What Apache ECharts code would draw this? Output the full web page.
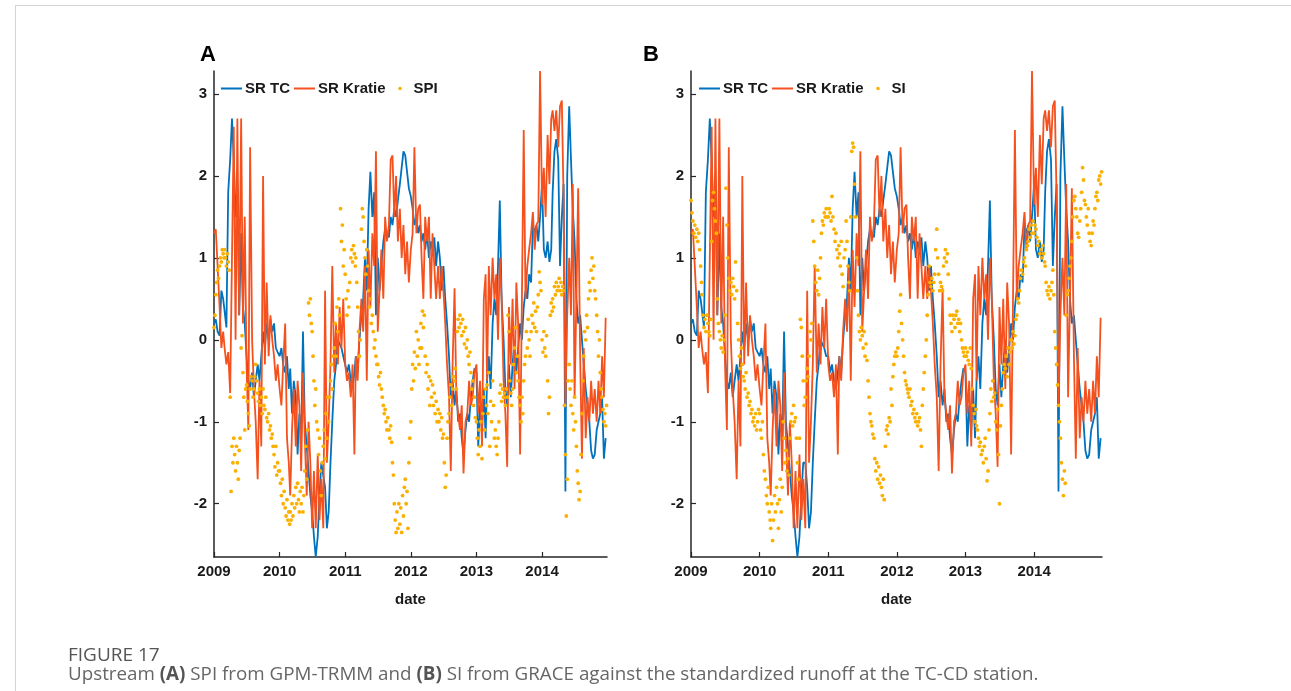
<!DOCTYPE html>
<html>
<head>
<meta charset="utf-8">
<script src="https://cdn.jsdelivr.net/npm/echarts@6.0.0/dist/echarts.min.js"></script>
<style>
html,body{margin:0;padding:0;background:#fff;}
#chart{width:1291px;height:691px;}
</style>
</head>
<body>
<div id="chart"></div>
<script>
// ---------- data ----------
const YEARS = [2009, 2010, 2011, 2012, 2013, 2014];
const LINE_DAYS = [1, 11, 21];            // three readings per month for the runoff lines
const DOT_DAYS = [1, 6, 11, 16, 21, 26];  // six readings per month for SPI / SI
const X_TICKS = [2009, 2010, 2011, 2012, 2013, 2014];
const Y_TICKS = [-2, -1, 0, 1, 2, 3];

// SR TC (3 values per month, Jan 2009 .. Dec 2014)
const srTC = [
  0.2,0.25,0.1, 0.05,0.6,0.5, 0.35,0.15,1.8, 2.2,2.7,2.2, 1.5,1.9,0.3, 1.3,0.4,0.2, -0.2,-0.5,-0.6, -0.4,-0.7,-0.5, -0.3,-0.5,-0.2, 0.1,-0.1,0.2, 0.0,0.25,0.1, 0.2,-0.1,-0.15,
  -0.2,-0.1,-0.3, -0.4,-0.2,-0.6, -0.35,-0.9,-0.5, -0.7,-1.4,-0.9, -1.2,0.1,-1.0, -1.3,-1.6,-1.9, -2.1,-2.4,-2.65, -2.4,-1.9,-1.5, -1.5,-1.8,-2.3, -2.1,-1.5,-1.0, -0.5,-0.3,0.0, 0.0,-0.1,-0.2,
  -0.2,-0.4,-0.3, -0.5,-0.6,-0.4, -0.2,-0.4,0.0, 0.3,0.5,1.0, 0.6,1.6,2.05, 1.5,1.8,0.3, 1.0,0.6,0.9, 1.2,1.35,1.3, 1.25,1.5,1.4, 1.6,1.5,1.7, 1.9,2.1,2.3, 2.25,2.05,1.85,
  1.75,1.6,1.4, 1.5,1.3,1.4, 1.2,1.3,1.1, 1.3,1.0,1.2, 1.1,1.25,0.9, 1.2,1.0,0.6, 0.9,0.5,0.2, -0.2,-0.7,-0.5, -0.8,-0.6,-1.0, -0.9,-1.2,-1.4, -1.1,-0.9,-1.0, -0.7,-0.5,-0.35,
  -0.4,-1.3,-0.8, -1.1,-0.6,-1.2, -0.5,-0.2,-0.6, 0.2,0.5,0.3, 0.9,1.7,0.5, 0.0,-0.6,-0.8, -0.3,-0.7,-0.3, 0.0,-0.4,-0.1, 0.2,0.0,0.4, 0.6,0.5,0.8, 0.7,1.4,1.3, 1.4,1.2,1.5,
  1.9,1.1,1.0, 1.2,0.95,1.1, 1.8,2.3,2.45, 2.2,0.9,1.5, 1.9,-1.85,2.0, 2.85,2.2,1.6, 1.2,0.5,0.2, 0.3,0.0,-0.3, -0.6,-0.8,-1.0, -1.35,-1.45,-1.4, -1.1,-1.0,-0.9, -0.7,-1.45,-1.2
];

// SR Kratie (3 values per month)
const srKratie = [
  1.3,1.35,0.9, 0.4,-0.1,0.1, -0.1,-0.3,-0.15, -0.65,1.0,2.6, 0.0,2.7,0.3, 2.7,0.2,1.5, -0.3,-1.1,2.35, 0.0,-0.6,-1.0, -1.7,-0.5,-1.3, 2.0,-0.3,0.7, -0.2,0.3,0.0, -0.2,-0.5,-0.3,
  -0.6,-0.8,-0.3, 0.2,-1.2,-1.5, -1.9,-1.1,-0.6, -1.3,-0.5,-0.8, -1.6,-0.4,-1.2, -1.9,-1.0,-1.5, -2.3,-1.6,-2.3, -1.4,-2.2,-1.7, -2.3,0.6,-1.5, -1.0,-0.3,0.9, -0.4,0.2,-0.3, 0.4,-0.1,0.5,
  -0.3,-0.5,-0.4, -0.7,-0.3,-1.4, -0.2,-0.5,0.1, 0.5,0.1,0.9, -0.5,1.1,0.4, 1.3,0.9,2.3, 0.1,0.6,1.1, 0.5,1.5,1.2, 1.4,2.2,2.25, 1.5,2.0,1.2, 1.6,1.0,1.4, 0.8,1.2,0.7,
  1.1,1.3,2.35, 1.3,1.6,1.65, 1.0,0.5,1.5, 1.2,1.5,0.5, 1.3,0.9,0.5, 0.9,0.5,0.9, 0.6,0.2,-0.3, -0.7,-1.6,-0.3, 0.63,-0.7,-0.9, -1.1,-0.8,-1.63, -1.0,-0.9,-0.5, -0.8,-0.7,-0.4,
  -0.3,-0.9,-0.5, -1.3,0.5,0.8, -0.5,0.9,0.3, 1.0,0.5,0.8, 0.0,1.0,0.5, -0.5,-0.9,-1.55, 0.4,-0.3,0.5, -0.6,0.7,0.2, -1.4,0.5,2.56, 0.5,0.9,1.1, 1.3,1.56,1.1, 1.4,1.45,3.28,
  1.65,2.1,1.5, 2.5,1.9,2.7, 2.8,2.55,2.8, 2.35,2.85,2.92, 1.7,-0.8,0.3, 1.0,0.3,1.9, -0.7,0.5,1.85, -0.2,-1.45,-0.1, -1.2,-0.7,-1.0, -0.5,-0.9,-0.6, -1.0,-0.5,-0.9, -0.2,-0.7,0.27
];

// SPI (6 values per month)
const spi = [
  0.15,0.3,0.55,0.7,0.85,0.75, 0.9,1.0,0.95,1.1,1.05,1.0, 1.1,1.0,0.9,1.05,0.95,0.85, -0.7,-1.85,-1.3,-1.5,-1.2,-1.4, -1.6,-1.3,-1.5,-1.7,-1.35,-1.2, -0.1,0.05,-0.4,-0.7,-1.1,-0.6,
  -0.55,-0.75,-0.9,-1.05,-0.6,-0.45, -0.5,-0.7,-0.6,-0.45,-0.3,-0.5, -0.65,-0.75,-0.6,-0.8,-0.7,-0.9, -0.6,-0.8,-0.85,-0.7,-0.95,-1.0, -0.9,-1.1,-1.05,-1.2,-1.15,-1.3, -1.4,-1.55,-1.3,-1.65,-1.5,-1.6,
  -1.6,-1.75,-1.9,-1.7,-2.0,-1.85, -2.05,-2.15,-1.95,-2.2,-2.1,-2.25, -2.1,-2.2,-2.0,-2.15,-1.9,-2.05, -1.8,-2.0,-1.75,-1.95,-2.1,-1.85, -2.0,-1.8,-2.1,-1.9,-1.6,-1.3, -1.7,-1.1,0.45,0.3,0.5,0.2,
  0.1,-0.2,-0.5,-0.8,-0.6,-1.0, -1.1,-1.4,-1.2,-1.6,-1.9,-1.5, -1.3,-1.1,-1.45,-0.9,-1.2,-0.7, -1.0,-0.7,-0.5,-0.3,-0.6,-0.2, -0.1,0.2,-0.2,0.4,0.1,0.5, 0.3,1.6,1.2,1.4,0.9,1.1,
  0.8,0.5,0.3,0.6,0.4,0.7, 1.0,1.1,0.95,1.15,1.05,0.9, 1.0,0.7,0.4,0.1,-0.2,0.0, 1.35,1.6,1.5,1.2,1.0,0.8, 1.1,0.9,0.6,0.4,0.5,0.2, 0.3,0.1,-0.1,0.0,-0.2,-0.3,
  -0.3,-0.45,-0.55,-0.4,-0.6,-0.7, -0.8,-0.9,-0.85,-1.0,-1.1,-0.95, -1.1,-1.2,-1.05,-1.25,-1.5,-1.65, -2.0,-2.2,-2.35,-2.1,-2.3,-2.0, -2.25,-2.05,-2.35,-1.9,-2.15,-1.8, -1.7,-2.0,-1.85,-2.3,-1.5,-1.2,
  -1.0,-0.6,-0.3,-0.5,-0.15,-0.35, 0.1,-0.2,0.0,-0.3,-0.1,0.2, -0.1,0.35,0.15,0.3,-0.2,-0.4, -0.3,-0.6,-0.45,-0.8,-0.5,-0.7, -0.55,-0.8,-0.65,-0.9,-0.75,-1.0, -0.85,-1.0,-0.9,-1.1,-0.95,-1.2,
  -1.15,-1.5,-1.8,-1.65,-1.2,-1.0, -0.9,-0.7,-0.55,-0.8,-0.6,-0.45, -0.5,-0.35,-0.6,0.1,0.25,0.15, 0.3,0.2,0.05,0.25,0.1,-0.05, 0.15,-0.1,0.0,-0.2,-0.3,-0.15, -0.4,-0.6,-0.5,-0.8,-0.7,-0.95,
  -1.0,-1.2,-1.4,-1.1,-1.3,-1.0, -1.45,-0.9,-0.7,-1.1,-0.6,-0.8, -0.55,-0.9,-0.4,-1.3,-0.75,-1.0, -0.5,-0.8,-1.2,-1.1,-1.3,-1.4, -1.2,-1.0,-0.65,-0.55,-0.75,-0.6, -0.7,-0.65,-0.8,-0.6,-0.7,0.3,
  0.1,-0.5,-0.65,-0.8,-0.6,-0.3, -0.1,0.15,-0.4,-0.2,-0.5,-0.7, -0.8,-1.0,-0.7,-0.9,-0.5,-0.3, -0.2,0.1,-0.1,0.25,0.0,-0.2, 0.1,0.3,0.2,0.45,0.15,0.35, 0.1,0.4,0.55,0.83,0.7,0.6,
  0.0,-0.15,0.1,-0.1,-0.2,0.05, -0.5,-0.9,-0.7,0.3,0.45,0.35, 0.5,0.4,0.65,0.55,0.7,0.6, 0.65,0.75,0.6,0.7,0.55,0.65, 0.6,-0.8,-1.4,-2.15,-1.7,-0.5, -0.3,-0.6,-0.8,-0.5,-0.9,-1.1,
  -0.7,-1.0,-1.3,-1.6,-1.75,-1.95, -1.85,-1.4,-0.9,-0.5,-0.2,0.1, 0.0,0.3,0.15,0.5,0.7,0.6, 0.85,1.0,0.75,0.9,0.6,0.5, 0.3,0.1,-0.2,0.0,-0.4,-0.6, -0.7,-0.85,-1.0,-0.9,-1.05,-0.8
];

// SI (6 values per month)
const si = [
  1.7,1.55,1.45,1.3,1.4,1.25, 1.35,1.2,1.3,1.1,0.9,0.7, 0.55,0.3,0.15,0.25,0.1,0.3, 0.2,0.1,0.05,0.25,1.2,1.7, 1.8,1.6,1.45,1.3,0.5,0.2, 0.1,0.0,-0.1,0.05,-0.15,0.0,
  0.3,1.85,1.4,1.0,0.75,0.6, 0.7,0.55,0.75,0.65,0.5,0.95, 0.6,0.2,0.0,-0.2,-0.35,-0.1, -0.3,-0.45,-0.5,-0.6,-0.4,-0.7, -0.65,-0.8,-0.75,-0.9,-0.85,-1.0, -0.95,-1.05,-0.9,-1.1,-1.0,-0.85,
  -0.9,-1.1,-1.2,-1.0,-1.4,-1.6, -1.7,-1.9,-2.0,-1.8,-2.1,-2.2, -2.3,-2.0,-2.45,-2.2,-1.9,-2.1, -1.8,-2.0,-2.3,-1.95,-1.7,-2.1, -1.8,-1.0,-1.2,-1.5,-1.35,-1.6, -1.45,-1.65,-1.2,-1.0,-0.9,-1.05,
  -0.8,-1.0,-0.95,-1.2,-1.5,-1.7, -1.2,0.25,0.15,-0.2,-0.5,-0.8, -0.7,-0.5,-0.35,-0.45,-0.2,0.1, 0.0,0.2,1.45,1.2,0.9,0.7, 0.6,0.85,0.55,0.75,1.0,1.3, 1.45,1.4,1.55,1.5,1.6,1.5,
  1.5,1.6,1.55,1.45,1.75,1.5, 1.35,1.2,1.3,1.1,1.0,1.15, 1.05,0.9,1.2,0.8,0.65,1.0, 1.1,1.45,1.2,0.9,0.7,0.6, 1.5,2.3,2.4,2.35,1.9,1.5, 1.0,0.6,0.3,0.1,0.0,0.15,
  0.05,-0.1,0.1,-0.2,-0.05,-0.25, -0.5,-0.7,-0.9,-1.0,-1.05,-1.15, -1.2,-1.45,-1.6,-1.5,-1.7,-1.55, -1.75,-1.65,-1.8,-1.9,-1.7,-1.95, -1.3,-1.1,-1.05,-1.15,-0.95,-1.0, -0.6,-0.8,-0.45,-0.3,-0.2,-0.15,
  -0.2,-0.1,0.1,0.35,0.55,0.2, 0.0,-0.2,-0.4,-0.5,-0.55,-0.6, -0.65,-0.7,-0.6,-0.8,-0.75,-0.9, -0.85,-0.95,-1.0,-0.9,-1.05,-1.0, -0.95,-1.1,-1.3,-0.8,-0.6,-0.4, -0.2,0.0,0.3,0.55,0.9,0.7,
  0.65,0.75,0.6,0.7,0.8,1.1, 1.35,1.0,0.8,0.6,0.7,0.65, 0.6,0.9,1.0,1.1,0.95,1.05, 0.8,0.5,0.3,0.2,0.1,0.3, 0.25,0.15,0.3,0.35,0.2,0.25, 0.1,0.2,0.0,-0.1,-0.15,-0.2,
  -0.1,-0.2,-0.15,-0.25,-0.3,-0.1, -0.35,-0.6,-0.8,-0.9,-1.0,-0.85, -1.05,-1.1,-1.2,-1.3,-1.25,-1.4, -1.35,-1.5,-1.3,-1.2,-1.45,-1.72, -1.6,-1.1,-0.9,-0.6,-0.75,-0.5, -0.7,-0.65,-1.0,-1.1,-0.85,-1.4,
  -2.0,-1.05,-0.8,-0.6,-0.4,-0.3, -0.35,-0.2,-0.45,-0.1,-0.3,-0.15, 0.0,-0.1,0.1,-0.05,0.05,0.25, 0.3,0.5,0.45,0.6,0.75,0.85, 0.8,0.95,1.0,0.9,1.1,1.15, 1.2,1.35,1.25,1.4,1.3,1.45,
  1.3,1.4,1.35,1.25,1.15,1.2, 1.05,1.1,1.0,1.15,1.05,0.95, 0.9,0.7,0.6,0.55,0.65,0.5, 0.6,0.7,0.85,0.55,0.1,-0.1, -0.3,-0.55,-0.8,-1.0,-1.2,-1.5, -1.7,-1.9,-1.6,-1.75,0.3,0.55,
  0.6,0.75,0.9,1.0,1.2,1.5, 1.7,1.75,1.6,1.5,1.3,1.25, 1.45,1.6,1.8,2.1,1.95,1.7, 1.65,1.5,1.4,1.6,1.3,1.2, 1.15,1.3,1.45,1.4,1.6,1.75, 1.8,1.7,1.95,2.0,1.9,2.05
];

const C_TC = '#0072BD';
const C_KR = '#F4511E';
const C_DOT = '#FBB000';

// ---------- helpers ----------
function decYear(y, m, d) {
  const t0 = Date.UTC(y, 0, 1), t1 = Date.UTC(y + 1, 0, 1);
  return y + (Date.UTC(y, m, d) - t0) / (t1 - t0);
}
function pair(values, days) {
  const out = [];
  let k = 0;
  YEARS.forEach(y => {
    for (let m = 0; m < 12; m++) {
      days.forEach(d => { out.push([decYear(y, m, d), values[k++]]); });
    }
  });
  return out;
}
const tcData = pair(srTC, LINE_DAYS);
const krData = pair(srKratie, LINE_DAYS);
const spiData = pair(spi, DOT_DAYS);
const siData = pair(si, DOT_DAYS);

const FONT = 'Liberation Sans, Arial, Helvetica, sans-serif';
const AX = '#262626';
const lineIcon = 'path://M0,0L0.01,0M21,14L21.01,14M0,6.1L21,6.1L21,7.9L0,7.9Z';
const dotIcon = 'path://M0,0L0.01,0M21,14L21.01,14M12.3,7L11.8,8.3L10.5,8.8L9.2,8.3L8.7,7L9.2,5.7L10.5,5.2L11.8,5.7Z';

function xAxis(gi) {
  return {
    type: 'value', gridIndex: gi, min: 2009, max: 2014.99,
    name: 'date', nameLocation: 'middle', nameGap: 35,
    nameTextStyle: { fontFamily: FONT, fontWeight: 'bold', fontSize: 15, color: '#1a1a1a' },
    axisLine: { show: true, onZero: false, lineStyle: { color: AX, width: 1.5 } },
    axisTick: { show: true, inside: true, length: 5, customValues: X_TICKS, lineStyle: { color: AX, width: 1.2 } },
    axisLabel: { customValues: X_TICKS, margin: 7, fontFamily: FONT, fontWeight: 'bold', fontSize: 15, color: '#1a1a1a', formatter: v => String(Math.round(v)) },
    splitLine: { show: false }
  };
}
function yAxis(gi) {
  return {
    type: 'value', gridIndex: gi, min: -2.65, max: 3.28,
    axisLine: { show: true, onZero: false, lineStyle: { color: AX, width: 1.5 } },
    axisTick: { show: true, inside: true, length: 5, customValues: Y_TICKS, lineStyle: { color: AX, width: 1.2 } },
    axisLabel: { customValues: Y_TICKS, margin: 7, fontFamily: FONT, fontWeight: 'bold', fontSize: 15, color: '#1a1a1a', formatter: v => String(Math.round(v)) },
    splitLine: { show: false }
  };
}
function lineSeries(name, data, color, gi) {
  return { type: 'line', name, data, xAxisIndex: gi, yAxisIndex: gi, symbol: 'none', showSymbol: false,
    lineStyle: { color, width: 1.8 }, itemStyle: { color }, animation: false, z: 2 };
}
function dotSeries(name, data, gi) {
  return { type: 'scatter', name, data, xAxisIndex: gi, yAxisIndex: gi, symbol: 'circle', symbolSize: 3.8,
    itemStyle: { color: C_DOT, opacity: 1 }, animation: false, z: 3 };
}
function legend(left, dotName) {
  return {
    left, top: 81, itemWidth: 21, itemHeight: 14, itemGap: 4, padding: 0,
    textStyle: { fontFamily: FONT, fontWeight: 'bold', fontSize: 15, color: '#1a1a1a', padding: [0, 0, 0, -2] },
    data: [
      { name: 'SR TC', icon: lineIcon, itemStyle: { color: C_TC } },
      { name: 'SR Kratie', icon: lineIcon, itemStyle: { color: C_KR } },
      { name: dotName, icon: dotIcon }
    ],
    selectedMode: false
  };
}

const chart = echarts.init(document.getElementById('chart'), null, { renderer: 'canvas' });
chart.setOption({
  backgroundColor: '#fff',
  animation: false,
  grid: [
    { left: 214, top: 71, width: 393, height: 486 },
    { left: 691, top: 71, width: 411, height: 486 }
  ],
  xAxis: [xAxis(0), xAxis(1)],
  yAxis: [yAxis(0), yAxis(1)],
  legend: [legend(221, 'SPI'), legend(699, 'SI')],
  series: [
    lineSeries('SR TC', tcData, C_TC, 0),
    lineSeries('SR Kratie', krData, C_KR, 0),
    dotSeries('SPI', spiData, 0),
    lineSeries('SR TC', tcData, C_TC, 1),
    lineSeries('SR Kratie', krData, C_KR, 1),
    dotSeries('SI', siData, 1)
  ],
  graphic: [
    { type: 'line', shape: { x1: 15, y1: 5.5, x2: 1291, y2: 5.5 }, style: { stroke: '#d4d4d4', lineWidth: 1 }, silent: true },
    { type: 'line', shape: { x1: 15.5, y1: 5, x2: 15.5, y2: 691 }, style: { stroke: '#d4d4d4', lineWidth: 1 }, silent: true },
    { type: 'text', left: 200, top: 44, style: { text: 'A', font: 'bold 22px ' + FONT, fill: '#000' } },
    { type: 'text', left: 643, top: 44, style: { text: 'B', font: 'bold 22px ' + FONT, fill: '#000' } },
    { type: 'text', left: 68, top: 646, style: { text: 'FIGURE 17', font: '19px "Open Sans", sans-serif', fill: '#555' } },
    { type: 'text', left: 68, top: 665, style: {
        text: 'Upstream {b|(A)} SPI from GPM-TRMM and {b|(B)} SI from GRACE against the standardized runoff at the TC-CD station.',
        font: '18.8px "Open Sans", sans-serif', fill: '#666',
        rich: { b: { fontWeight: 'bold', fontFamily: 'Open Sans', fontSize: 18.8, fill: '#555' } }
      } }
  ]
});
</script>
</body>
</html>
